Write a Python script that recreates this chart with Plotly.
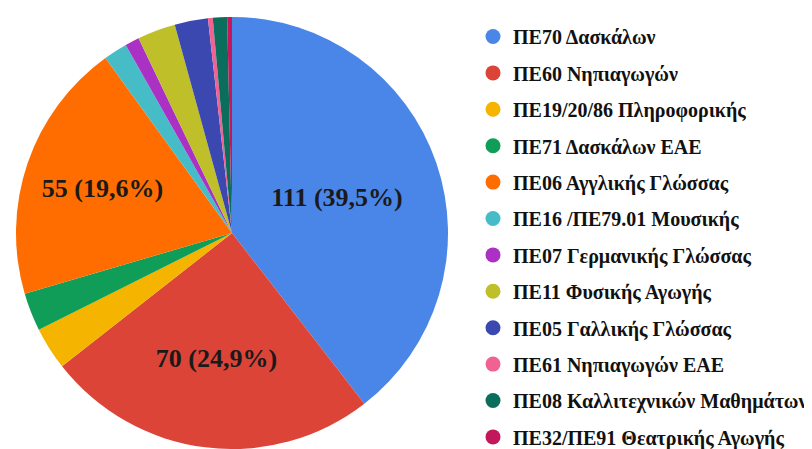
import plotly.graph_objects as go

categories = [
    "ΠΕ70 Δασκάλων",
    "ΠΕ60 Νηπιαγωγών",
    "ΠΕ19/20/86 Πληροφορικής",
    "ΠΕ71 Δασκάλων ΕΑΕ",
    "ΠΕ06 Αγγλικής Γλώσσας",
    "ΠΕ16 /ΠΕ79.01 Μουσικής",
    "ΠΕ07 Γερμανικής Γλώσσας",
    "ΠΕ11 Φυσικής Αγωγής",
    "ΠΕ05 Γαλλικής Γλώσσας",
    "ΠΕ61 Νηπιαγωγών ΕΑΕ",
    "ΠΕ08 Καλλιτεχνικών Μαθημάτων",
    "ΠΕ32/ΠΕ91 Θεατρικής Αγωγής",
]
values = [111, 70, 9, 8, 55, 5, 3, 8, 7, 1, 3, 1]
colors = [
    "#4a86e8", "#dc4437", "#f4b400", "#0f9d58", "#ff6d01", "#46bdc6",
    "#ab30c4", "#bfbf2a", "#3b48b0", "#f06292", "#0b6e5c", "#c2185b",
]

W, H = 804, 441  # page body has an 8px margin inside the 812x449 window
SERIF = "Liberation Serif, DejaVu Serif, serif"

total = sum(values)
templates = ["%{value} (%{percent:.1%})" if v / total > 0.1 else "" for v in values]

fig = go.Figure()
fig.add_trace(go.Pie(
    labels=categories,
    values=values,
    sort=False,
    direction="clockwise",
    rotation=0,
    marker=dict(colors=colors, line=dict(width=0)),
    texttemplate=templates,
    textposition="inside",
    insidetextorientation="horizontal",
    textfont=dict(family=SERIF, size=26, color="#1a1a1a", weight="bold"),
    showlegend=False,
    domain=dict(x=[8 / W, 440 / W], y=[0, 1]),
    hoverinfo="skip",
))

for i, (name, c) in enumerate(zip(categories, colors)):
    fig.add_trace(go.Scatter(
        x=[None], y=[None], mode="markers", name=name,
        marker=dict(symbol="circle", size=15, color=c),
        legendgroup=f"g{i}", showlegend=True,
    ))

fig.update_layout(
    width=W, height=H,
    margin=dict(l=0, r=0, t=9, b=0, autoexpand=False),
    paper_bgcolor="white", plot_bgcolor="white",
    separators=",.",
    font=dict(family=SERIF),
    xaxis=dict(visible=False), yaxis=dict(visible=False),
    legend=dict(
        x=465 / W, xanchor="left", y=1.0, yanchor="top",
        font=dict(family=SERIF, size=20, color="#111111", weight="bold"),
        tracegroupgap=7.4, itemclick=False, maxheight=1,
        bgcolor="rgba(0,0,0,0)",
    ),
)

fig.write_html("out.html")
